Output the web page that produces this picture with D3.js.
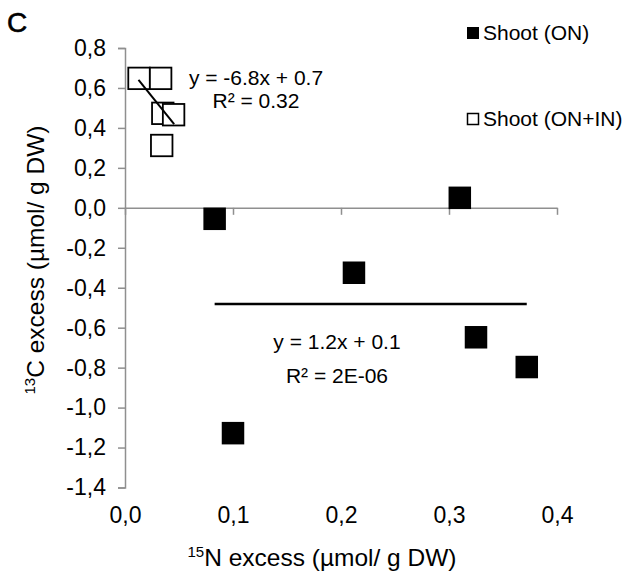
<!DOCTYPE html>
<html>
<head>
<meta charset="utf-8">
<script src="https://cdn.jsdelivr.net/npm/d3@7"></script>
<style>
  html, body { margin: 0; padding: 0; background: #fff; }
  svg { display: block; font-family: "Liberation Sans", Arial, Helvetica, sans-serif; }
</style>
</head>
<body>
<svg id="chart" width="627" height="578"></svg>
<script>
// Shoot (ON): 15N excess vs 13C excess
const onX = [0.083, 0.310, 0.212, 0.325, 0.372, 0.100];
const onY = [-0.055, 0.050, -0.325, -0.648, -0.797, -1.128];

// Shoot (ON+IN)
const oninX = [0.013, 0.033, 0.035, 0.045, 0.034];
const oninY = [0.648, 0.648, 0.473, 0.466, 0.312];

// Trend lines (end points) and their equation labels
const trendOnX = [0.083, 0.372];
const trendOnY = [-0.482, -0.482];
const trendOninX = [0.0125, 0.0455];
const trendOninY = [0.641, 0.419];
const eqOn = ["y = 1.2x + 0.1", "R² = 2E-06"];
const eqOnin = ["y = -6.8x + 0.7", "R² = 0.32"];

// Axis ticks
const xTicks = [0, 0.1, 0.2, 0.3, 0.4];
const yTicks = [0.8, 0.6, 0.4, 0.2, 0.0, -0.2, -0.4, -0.6, -0.8, -1.0, -1.2, -1.4];

const seriesNames = ["Shoot (ON)", "Shoot (ON+IN)"];

const svg = d3.select("#chart");
const x = d3.scaleLinear().domain([0, 0.4]).range([125, 557]);
const y = d3.scaleLinear().domain([-1.4, 0.8]).range([487.5, 48]);
// decimal comma, plain hyphen for negatives
const comma = v => d3.format(".1f")(v).replace("\u2212", "-").replace(".", ",");
const axisColor = "#8f8f8f";

// Panel letter
svg.append("text").attr("x", 7).attr("y", 32)
  .attr("font-size", 28).attr("font-weight", "normal")
  .attr("stroke", "#000").attr("stroke-width", 0.6).text("C");

// Y axis
const gy = svg.append("g").attr("transform", `translate(${x(0)},0)`)
  .call(d3.axisLeft(y).tickValues(yTicks).tickFormat(comma).tickSize(7).tickPadding(12));
gy.select(".domain").attr("stroke", axisColor).attr("stroke-width", 1.5);
gy.selectAll(".tick line").attr("stroke", axisColor).attr("stroke-width", 1.5);
gy.selectAll(".tick text").attr("font-size", 23).attr("fill", "#000")
  .attr("font-family", "Liberation Sans, Arial, sans-serif");

// X axis line through y = 0 (ticks only)
const gx = svg.append("g").attr("transform", `translate(0,${y(0)})`)
  .call(d3.axisBottom(x).tickValues(xTicks).tickFormat("").tickSize(7).tickSizeOuter(0));
gx.select(".domain").attr("stroke", axisColor).attr("stroke-width", 1.5);
gx.selectAll(".tick line").attr("stroke", axisColor).attr("stroke-width", 1.5);

// X tick labels along the bottom
const gxl = svg.append("g").attr("transform", `translate(0,${y(-1.4)})`)
  .call(d3.axisBottom(x).tickValues(xTicks).tickFormat(comma).tickSize(0).tickPadding(19));
gxl.select(".domain").remove();
gxl.selectAll(".tick text").attr("font-size", 23).attr("fill", "#000")
  .attr("font-family", "Liberation Sans, Arial, sans-serif");

// Axis titles
const xt = svg.append("text").attr("x", 322).attr("y", 566)
  .attr("text-anchor", "middle").attr("font-size", 24.5);
xt.append("tspan").attr("font-size", 15).attr("dy", -9).text("15");
xt.append("tspan").attr("dy", 9).text("N excess (µmol/ g DW)");

const yt = svg.append("text").attr("transform", `translate(44,260) rotate(-90)`)
  .attr("text-anchor", "middle").attr("font-size", 24.5);
yt.append("tspan").attr("font-size", 15).attr("dy", -9).text("13");
yt.append("tspan").attr("dy", 9).text("C excess (µmol/ g DW)");

// Shoot (ON+IN) markers: open squares
const sOpen = 21.5;
svg.append("g").selectAll("rect").data(oninX.map((v, i) => [v, oninY[i]])).join("rect")
  .attr("x", d => x(d[0]) - sOpen / 2).attr("y", d => y(d[1]) - sOpen / 2)
  .attr("width", sOpen).attr("height", sOpen)
  .attr("fill", "#fff").attr("stroke", "#000").attr("stroke-width", 1.8);

// Shoot (ON) markers: filled squares
const sFill = 22.5;
svg.append("g").selectAll("rect").data(onX.map((v, i) => [v, onY[i]])).join("rect")
  .attr("x", d => x(d[0]) - sFill / 2).attr("y", d => y(d[1]) - sFill / 2)
  .attr("width", sFill).attr("height", sFill).attr("fill", "#000");

// Trend lines
const line = d3.line().x(d => x(d[0])).y(d => y(d[1]));
svg.append("path").datum(trendOninX.map((v, i) => [v, trendOninY[i]]))
  .attr("d", line).attr("fill", "none").attr("stroke", "#000").attr("stroke-width", 2);
svg.append("path").datum(trendOnX.map((v, i) => [v, trendOnY[i]]))
  .attr("d", line).attr("fill", "none").attr("stroke", "#000").attr("stroke-width", 2.5);

// Equation labels
svg.append("g").selectAll("text").data(eqOnin).join("text")
  .attr("x", 256).attr("y", (d, i) => 85 + i * 23)
  .attr("text-anchor", "middle").attr("font-size", 21).text(d => d);
svg.append("g").selectAll("text").data(eqOn).join("text")
  .attr("x", 337).attr("y", (d, i) => 349 + i * 34)
  .attr("text-anchor", "middle").attr("font-size", 21).text(d => d);

// Legend
const lg = svg.append("g");
lg.append("rect").attr("x", 467).attr("y", 27).attr("width", 12).attr("height", 12).attr("fill", "#000");
lg.append("text").attr("x", 483).attr("y", 40).attr("font-size", 21).text(seriesNames[0]);
lg.append("rect").attr("x", 467.5).attr("y", 113.5).attr("width", 11).attr("height", 11)
  .attr("fill", "#fff").attr("stroke", "#000").attr("stroke-width", 1.5);
lg.append("text").attr("x", 483).attr("y", 126).attr("font-size", 21).text(seriesNames[1]);
</script>
</body>
</html>
